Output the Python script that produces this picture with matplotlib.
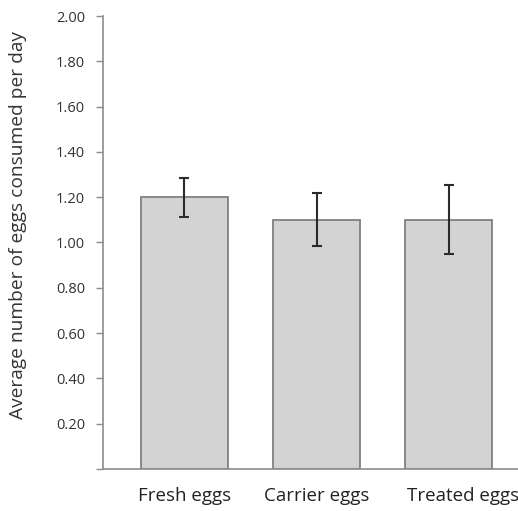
import matplotlib
matplotlib.use("Agg")
import matplotlib.pyplot as plt
import matplotlib.transforms as mtransforms
from matplotlib.ticker import FuncFormatter

plt.rcParams['font.family'] = ['Open Sans', 'DejaVu Sans']

categories = ['Fresh eggs', 'Carrier eggs', 'Treated eggs']
means = [1.20, 1.10, 1.10]
errors = [0.086, 0.117, 0.152]
yticks = [0.0, 0.2, 0.4, 0.6, 0.8, 1.0, 1.2, 1.4, 1.6, 1.8, 2.0]

fig = plt.figure(figsize=(5.18, 5.11), dpi=100)
# axes box in pixels: left 103, bottom 469, top 16, right runs past the figure edge
W, H = 518, 511
ax = fig.add_axes([103 / W, (H - 469) / H, (530 - 103) / W, (469 - 16) / H])

x = range(len(categories))
ax.bar(x, means, width=0.66, color='#d3d3d3', edgecolor='#808080', linewidth=1.3, zorder=2)
ax.errorbar(x, means, yerr=errors, fmt='none', ecolor='#2b2b2b', elinewidth=1.5,
            capsize=3.5, capthick=1.5, zorder=3)

ax.set_xlim(-0.615, 2.615)
ax.set_ylim(0, 2.0)
ax.set_yticks(yticks)
ax.yaxis.set_major_formatter(FuncFormatter(lambda v, p: '' if v == 0 else f'{v:.2f}'))
ax.set_xticks(list(x))
ax.set_xticklabels(categories, fontsize=13.5, color='#222222')
ax.tick_params(axis='x', length=0, pad=13)
ax.tick_params(axis='y', length=5, width=1, color='#8c8c8c', labelsize=10.5,
               labelcolor='#333333', pad=8)

# the last label sits a bit right of its bar in the original
lbl = ax.get_xticklabels()[-1]
lbl.set_transform(lbl.get_transform() + mtransforms.ScaledTranslation(0.14, 0, fig.dpi_scale_trans))

for s in ['top', 'right']:
    ax.spines[s].set_visible(False)
for s in ['left', 'bottom']:
    ax.spines[s].set_color('#8c8c8c')
    ax.spines[s].set_linewidth(1.2)

ax.set_ylabel('Average number of eggs consumed per day', fontsize=13.8,
              color='#333333')
ax.yaxis.set_label_coords(-0.178, 0.539)

fig.savefig('out.png', dpi=100)
